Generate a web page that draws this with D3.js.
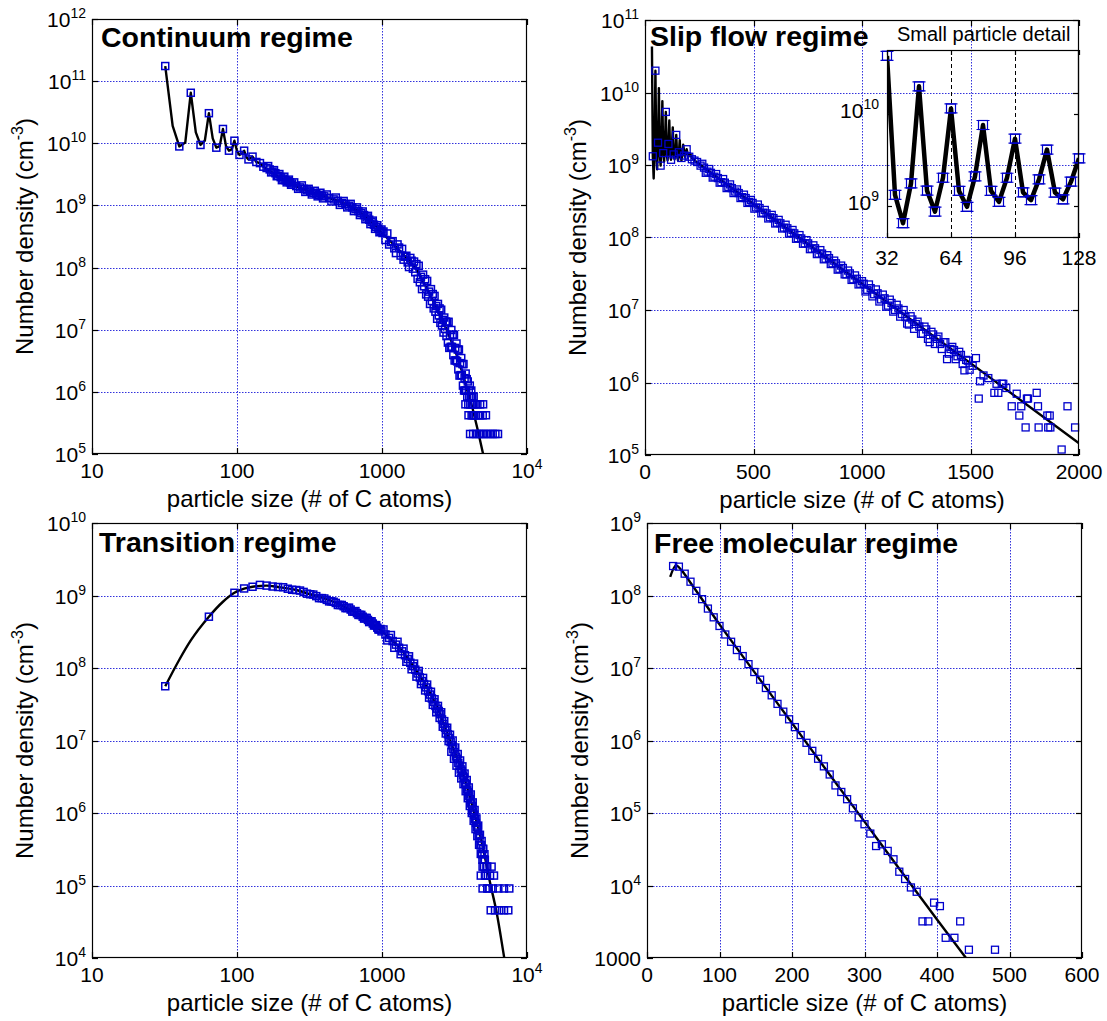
<!DOCTYPE html>
<html>
<head>
<meta charset="utf-8">
<script src="https://cdn.jsdelivr.net/npm/d3@7"></script>
<style>
  html, body { margin: 0; padding: 0; background: #fff; }
  svg { display: block; font-family: "Liberation Sans", Arial, Helvetica, sans-serif; }
</style>
</head>
<body>
<svg id="fig" width="1107" height="1021"></svg>
<script>
// ---------------- data: [particle size (# C atoms), number density (cm^-3)] ----------------

// Continuum regime: simulated size distribution, small sizes
const continuumSimSmall = [
  [32,1.75e11],[40,8.9e9],[48,6.5e10],[56,9.4e9],[64,3.05e10],[72,8.5e9],[80,1.7e10],[88,7.6e9],
  [96,1.1e10],[104,6.5e9],[112,7.6e9],[120,5.5e9],[128,6.1e9],[136,5.0e9],[144,4.8e9],[152,4.2e9],
  [160,4.0e9],[164,4.3e9],[168,3.8e9],[172,3.4e9],[176,3.5e9],[180,3.7e9],[184,3.3e9],[188,2.95e9],
  [192,3.0e9],[196,3.2e9],[200,2.85e9],[204,2.55e9],[208,2.7e9],[212,2.9e9],[216,2.55e9],[220,2.35e9],
  [224,2.45e9],[228,2.6e9],[232,2.35e9],[236,2.15e9],[240,2.25e9],[248,2.35e9],[256,2.05e9],[264,1.85e9],
  [272,1.95e9],[280,2.1e9],[288,1.85e9],[296,1.65e9],[304,1.75e9],[312,1.85e9],[320,1.68e9],[328,1.5e9],
  [336,1.6e9],[344,1.72e9],[352,1.55e9],[360,1.4e9],[368,1.48e9],[376,1.6e9],[384,1.43e9],[392,1.3e9],
  [400,1.4e9],[416,1.5e9],[432,1.32e9],[448,1.16e9],[464,1.25e9],[480,1.34e9],[496,1.18e9],[512,1.02e9],
  [528,1.1e9],[544,1.18e9],[560,1.05e9],[576,9.3e8],[592,9.9e8],[608,1.06e9],[624,9.3e8],[640,8.1e8],
  [656,8.7e8],[672,9.3e8],[688,8.1e8],[704,7.0e8],[720,7.5e8],[736,8.0e8],[752,7.0e8],[768,6.0e8],
  [784,6.4e8],[800,6.8e8],[816,5.9e8],[832,5.0e8],[848,5.4e8],[864,5.7e8],[880,4.9e8],[896,4.2e8],
  [912,4.5e8],[928,4.8e8],[944,4.2e8],[960,3.7e8],[976,3.9e8],[992,4.1e8],[1008,3.6e8]
];
// Continuum regime: simulated size distribution, large sizes
const continuumSimLarge = [
  [1024,3.8e8],[1056,2.78e8],[1088,3.54e8],[1120,2.35e8],[1152,2.58e8],[1184,2.66e8],[1216,2.04e8],[1248,1.71e8],
  [1280,2.36e8],[1312,2.1e8],[1344,1.56e8],[1376,2.0e8],[1408,1.34e8],[1440,1.49e8],[1472,1.55e8],[1504,1.21e8],
  [1536,1.02e8],[1568,1.43e8],[1600,1.29e8],[1632,9.6e7],[1664,1.25e8],[1696,8.4e7],[1728,1.14e8],[1760,6.6e7],
  [1792,1.07e8],[1824,5.8e7],[1856,7.1e7],[1888,4.5e7],[1920,7.7e7],[1952,5.0e7],[1984,6.5e7],[2016,3.7e7],
  [2048,6.1e7],[2080,3.4e7],[2112,4.1e7],[2144,2.6e7],[2176,4.5e7],[2208,2.9e7],[2240,3.75e7],[2272,2.2e7],
  [2304,3.5e7],[2336,1.95e7],[2368,2.4e7],[2400,1.5e7],[2432,2.6e7],[2464,1.7e7],[2496,2.2e7],[2528,1.29e7],
  [2560,2.1e7],[2592,1.17e7],[2624,1.44e7],[2656,9.0e6],[2688,1.57e7],[2720,1.03e7],[2752,1.35e7],[2784,7.9e6],
  [2816,1.33e7],[2848,6.2e6],[2880,1.34e7],[2912,5.1e6],[2944,8.1e6],[2976,5.3e6],[3008,9.9e6],[3040,5.3e6],
  [3072,8.3e6],[3104,3.9e6],[3136,8.3e6],[3168,3.2e6],[3200,5.1e6],[3232,3.2e6],[3264,6.0e6],[3296,3.1e6],
  [3328,4.8e6],[3360,2.3e6],[3392,4.8e6],[3424,1.83e6],[3456,2.9e6],[3488,1.86e6],[3520,3.5e6],[3552,1.85e6],
  [3584,2.8e6],[3616,1.26e6],[3648,2.8e6],[3680,1.05e6],[3712,1.66e6],[3744,1.05e6],[3776,1.97e6],[3808,1.05e6],
  [3840,1.6e6],[3872,8.4e5],[3904,1.47e6],[3936,6.3e5],[3968,1.05e6],[4000,8.4e5],[4032,1.26e6],[4064,6.3e5],
  [4096,8.4e5],[4128,1.05e6],[4160,6.3e5],[4192,8.4e5],[4224,4.2e5],[4256,6.3e5],[4288,8.4e5],[4320,4.2e5]
];
// Continuum regime: single-digit particle counts in the tail
const continuumSimTail = [
  [3760,6.3e5],[4350,6.3e5],[4550,6.3e5],[4750,6.3e5],[4980,6.3e5],
  [3950,4.2e5],[4150,4.2e5],[4450,4.2e5],[4600,4.2e5],[4750,4.2e5],[4950,4.2e5],[5210,4.2e5],
  [4050,2.1e5],[4250,2.1e5],[4450,2.1e5],[4650,2.1e5],[4850,2.1e5],[5050,2.1e5],[5300,2.1e5],
  [5550,2.1e5],[5800,2.1e5],[6050,2.1e5],[6310,2.1e5]
];
// Continuum regime: model curve
const continuumFit = [
  [32,1.75e11],[36,1.9e10],[40,8.9e9],[44,1.03e10],[48,6.5e10],[52,1.5e10],[56,9.4e9],[60,1.1e10],
  [64,3.05e10],[68,1.2e10],[72,8.5e9],[76,9.0e9],[80,1.7e10],[84,9.0e9],[88,7.6e9],[92,8.0e9],
  [96,1.1e10],[100,7.5e9],[104,6.5e9],[108,6.8e9],[112,7.6e9],[116,6.0e9],[120,5.5e9],[124,5.8e9],
  [128,6.1e9],[136,5.0e9],[144,4.8e9],[152,4.2e9],[175,3.4e9],[200,2.75e9],[230,2.3e9],[260,2.0e9],
  [300,1.76e9],[340,1.58e9],[390,1.43e9],[440,1.3e9],[510,1.16e9],[587,1.0e9],[660,8.6e8],[750,7.0e8],
  [870,5.2e8],[1000,3.6e8],[1120,2.8e8],[1260,2.1e8],[1450,1.5e8],[1690,1.0e8],[1850,7.2e7],[2000,5.0e7],
  [2240,3.0e7],[2500,1.8e7],[2790,1.0e7],[3160,5.0e6],[3550,2.2e6],[3900,1.0e6],[4200,5.6e5],[4600,2.3e5],
  [4980,1.0e5],[5100,8.0e4]
];

// Slip flow regime: small-particle detail (32–128 atoms)
const slipDetail = [
  [32,4.3e10],[36,1.32e9],[40,6.5e8],[44,1.76e9],[48,2.0e10],[52,1.47e9],[56,8.7e8],[60,2.03e9],
  [64,1.15e10],[68,1.46e9],[72,9.8e8],[76,2.1e9],[80,7.6e9],[84,1.46e9],[88,1.11e9],[92,2.03e9],
  [96,5.4e9],[100,1.41e9],[104,1.16e9],[108,1.95e9],[112,4.1e9],[116,1.4e9],[120,1.18e9],[124,1.84e9],
  [128,3.3e9]
];
// Slip flow regime: model curve beyond the detail range
const slipFitTail = [
  [132,1.4e9],[136,1.2e9],[140,1.5e9],[144,2.6e9],[148,1.35e9],[152,1.15e9],[156,1.45e9],[160,2.2e9],
  [164,1.3e9],[168,1.15e9],[172,1.4e9],[176,1.9e9],[184,1.3e9],[192,1.65e9],[200,1.3e9],[208,1.45e9],
  [216,1.25e9],[224,1.2e9],[240,1.08e9],[500,2.9e8],[1000,2.3e7],[1500,1.85e6],[2000,1.45e5]
];
// Slip flow regime: simulated size distribution, on a 16-atom grid
const slipSimA = [
  [36,1.32e9],[48,2.0e10],[60,2.03e9],[72,9.8e8],[84,1.46e9],[96,5.4e9],[108,1.95e9],[120,1.18e9],
  [132,1.4e9],[144,2.6e9],[156,1.5e9],[168,1.25e9],[180,1.35e9],[192,1.65e9],[204,1.3e9],[216,1.2e9],
  [228,1.15e9],[240,1.1e9],
  [256,9.8e8],[272,9.2e8],[288,8.1e8],[304,7.8e8],[320,6.9e8],[336,6.6e8],[352,5.8e8],[368,5.7e8],
  [384,5.0e8],[400,4.8e8],[416,4.3e8],[432,4.1e8],[448,3.6e8],[464,3.5e8],[480,3.1e8],[496,3.0e8],
  [512,2.6e8],[528,2.55e8],[544,2.2e8],[560,2.15e8],[576,1.9e8],[592,1.85e8],[608,1.6e8],[624,1.57e8],
  [640,1.37e8],[656,1.34e8],[672,1.16e8],[688,1.14e8],[704,9.8e7],[720,9.7e7],[736,8.3e7],[752,8.3e7],
  [768,7.0e7],[784,7.1e7],[800,6.0e7],[816,6.0e7],[832,5.1e7],[848,5.2e7],[864,4.4e7],[880,4.4e7],
  [896,3.7e7],[912,3.8e7],[928,3.1e7],[944,3.2e7],[960,2.65e7],[976,2.7e7],[992,2.3e7],[1008,2.3e7],
  [1024,1.9e7],[1040,2.0e7],[1056,1.65e7],[1072,1.7e7],[1088,1.4e7],[1104,1.45e7],[1120,1.15e7],[1136,1.25e7],
  [1152,1.0e7],[1168,1.05e7],[1184,8.8e6],[1200,8.0e6],[1216,6.3e6],[1232,7.4e6],[1248,6.4e6],[1264,5.9e6],
  [1280,4.7e6],[1296,5.4e6],[1312,3.6e6],[1328,4.6e6],[1344,4.0e6],[1360,3.4e6],[1376,3.6e6],[1392,2.1e6],
  [1408,2.9e6],[1424,2.8e6],[1440,2.3e6],[1456,2.4e6],[1472,1.47e6],[1488,2.0e6]
];
// Slip flow regime: simulated size distribution, in-between sizes
const slipSimB = [
  [264,1.04e9],[280,7.8e8],[296,8.8e8],[312,6.7e8],[328,7.5e8],[344,5.7e8],[360,6.4e8],[376,4.8e8],
  [392,5.4e8],[408,4.1e8],[424,4.6e8],[440,3.5e8],[456,3.9e8],[472,3.0e8],[488,3.3e8],[504,2.5e8],
  [520,2.85e8],[536,2.15e8],[552,2.4e8],[568,1.83e8],[584,2.05e8],[600,1.56e8],[616,1.75e8],[632,1.33e8],
  [648,1.5e8],[664,1.13e8],[680,1.27e8],[696,9.6e7],[712,1.08e8],[728,8.2e7],[744,9.2e7],[760,6.9e7],
  [776,7.8e7],[792,5.9e7],[808,6.7e7],[824,5.0e7],[840,5.7e7],[856,4.3e7],[872,4.8e7],[888,3.6e7],
  [904,4.1e7],[920,3.1e7],[936,3.5e7],[952,2.6e7],[968,3.0e7],[984,2.25e7],[1000,2.5e7],[1016,1.8e7],
  [1032,2.25e7],[1048,1.54e7],[1064,1.92e7],[1080,1.31e7],[1096,1.63e7],[1112,1.11e7],[1128,1.39e7],[1144,9.5e6],
  [1160,1.18e7],[1176,8.1e6],[1192,1.0e7],[1208,6.5e6],[1224,8.2e6],[1240,5.5e6],[1256,6.9e6],[1272,4.7e6],
  [1288,5.9e6],[1304,4.0e6],[1320,5.0e6],[1336,3.4e6],[1352,4.3e6],[1368,2.9e6],[1384,3.6e6],[1400,2.5e6],
  [1416,3.1e6],[1432,2.1e6],[1448,2.65e6],[1464,1.8e6],[1480,2.05e6],[1496,1.5e6]
];
// Slip flow regime: sparse large particles
const slipSimTail = [
  [1510,1.7e6],[1525,2.17e6],[1538,6.0e5],[1544,1.04e6],[1560,1.25e6],[1582,1.15e6],[1610,7.2e5],[1628,7.2e5],
  [1620,9.6e5],[1644,9.6e5],[1651,9.6e5],[1665,8.4e5],[1690,4.7e5],[1713,7.0e5],[1725,3.5e5],[1734,4.7e5],
  [1754,2.4e5],[1760,6.0e5],[1765,6.0e5],[1805,7.2e5],[1811,4.7e5],[1814,2.4e5],[1854,3.5e5],[1858,2.4e5],
  [1865,3.5e5],[1868,2.4e5],[1920,1.19e5],[1947,4.7e5],[1982,2.4e5]
];

// Transition regime: simulated size distribution
const transitionSimA = [
  [32,5.6e7],[64,5.1e8],[96,1.09e9],[128,1.32e9],[160,1.37e9],[192,1.31e9],[224,1.24e9],[256,1.19e9],
  [288,1.12e9],[320,1.04e9],[352,9.8e8],[384,9.2e8],[416,8.7e8],[448,8.3e8],[480,7.9e8],[512,7.4e8],
  [544,7.1e8],[576,6.7e8],[608,6.4e8],[640,6.0e8],[672,5.7e8],[704,5.4e8],[736,5.1e8],[768,4.9e8],
  [800,4.6e8],[832,4.4e8],[864,4.1e8],[896,3.9e8],[928,3.6e8],[960,3.4e8],[992,3.2e8],
  [1056,2.9e8],[1120,2.6e8],[1184,2.35e8],[1248,2.1e8],[1312,1.9e8],[1376,1.7e8],[1440,1.5e8],[1504,1.33e8],
  [1568,1.18e8],[1632,1.06e8],[1696,9.5e7],[1760,8.4e7],[1824,7.4e7],[1888,6.6e7],[1952,6.0e7],[2016,5.4e7],
  [2080,4.8e7],[2144,4.3e7],[2208,3.8e7],[2272,3.4e7],[2336,3.0e7],[2400,2.75e7],[2464,2.55e7],[2528,2.3e7],
  [2592,1.95e7],[2656,1.7e7],[2720,1.5e7],[2784,1.4e7],[2848,1.22e7],[2912,1.08e7],[2976,9.5e6],
  [3040,8.6e6],[3104,7.6e6],[3168,6.9e6],[3232,6.0e6],[3296,5.6e6],[3360,4.9e6],[3424,4.5e6],[3488,4.0e6],
  [3552,3.8e6],[3616,3.3e6],[3680,3.1e6],[3744,2.6e6],[3808,2.5e6],[3872,2.1e6],[3936,1.95e6],[4000,1.7e6],
  [4064,1.55e6],[4128,1.35e6],[4192,1.25e6],[4256,1.05e6],[4320,9.5e5],[4384,8.2e5],[4448,7.3e5],[4512,6.4e5],
  [4576,5.9e5],[4640,5.0e5],[4704,4.5e5],[4768,3.6e5],[4832,3.6e5],[4896,2.7e5],[4960,3.2e5],[5024,2.3e5],
  [5088,2.7e5]
];
const transitionSimB = [
  [112,1.25e9],[144,1.4e9],[176,1.33e9],[208,1.3e9],[240,1.2e9],[272,1.17e9],[304,1.06e9],[336,1.03e9],
  [368,9.2e8],[400,9.1e8],[432,8.3e8],[464,8.2e8],[496,7.4e8],[528,7.4e8],[560,6.7e8],[592,6.8e8],
  [624,6.0e8],[656,6.1e8],[688,5.4e8],[720,5.4e8],[752,4.8e8],[784,4.9e8],[816,4.3e8],[848,4.4e8],
  [880,3.85e8],[912,3.9e8],[944,3.4e8],[976,3.45e8],
  [1024,3.4e8],[1088,2.4e8],[1152,2.85e8],[1216,1.9e8],[1280,2.3e8],[1344,1.55e8],[1408,1.85e8],[1472,1.22e8],
  [1536,1.45e8],[1600,9.6e7],[1664,1.15e8],[1728,7.6e7],[1792,9.1e7],[1856,6.0e7],[1920,7.3e7],[1984,4.9e7],
  [2048,5.9e7],[2112,3.9e7],[2176,4.7e7],[2240,3.1e7],[2304,3.7e7],[2368,2.45e7],[2432,3.0e7],[2496,2.05e7],
  [2560,2.45e7],[2624,1.55e7],[2688,1.85e7],[2752,1.25e7],[2816,1.5e7],[2880,9.8e6],[2944,1.2e7],
  [3008,7.0e6],[3072,1.0e7],[3136,5.6e6],[3200,8.0e6],[3264,4.5e6],[3328,6.5e6],[3392,3.6e6],[3456,5.3e6],
  [3520,3.0e6],[3584,4.4e6],[3648,2.5e6],[3712,3.5e6],[3776,2.0e6],[3840,2.85e6],[3904,1.6e6],[3968,2.25e6],
  [4032,1.25e6],[4096,1.8e6],[4160,1.0e6],[4224,1.4e6],[4288,7.8e5],[4352,1.1e6],[4416,6.0e5],[4480,8.4e5],
  [4544,4.8e5],[4608,6.7e5],[4672,3.64e5],[4736,5.0e5],[4800,2.73e5],[4864,4.1e5],[4928,2.27e5],[4992,3.2e5],
  [5056,1.82e5],[5120,2.27e5],[5184,1.37e5],[5248,1.82e5]
];
// Transition regime: single-digit particle counts in the tail
const transitionSimTail = [
  [4940,1.82e5],[5320,1.82e5],[5700,1.82e5],
  [4800,1.37e5],[5130,1.37e5],[5560,1.37e5],[5920,1.37e5],
  [4940,9.1e4],[5320,9.1e4],[5440,9.1e4],[5800,9.1e4],[6340,9.1e4],[6940,9.1e4],[7550,9.1e4],
  [5620,4.55e4],[6020,4.55e4],[6440,4.55e4],[6940,4.55e4],[7430,4.55e4]
];
const transitionFit = [
  [32,5.6e7],[40,1.3e8],[48,2.4e8],[64,5.1e8],[80,8.2e8],[96,1.09e9],[112,1.24e9],[128,1.32e9],
  [160,1.37e9],[192,1.31e9],[256,1.19e9],[320,1.04e9],[400,9.1e8],[500,7.7e8],[600,6.4e8],[700,5.4e8],
  [1000,3.2e8],[1330,1.87e8],[1650,1.05e8],[2030,5.5e7],[2500,2.4e7],[2940,1.0e7],[3640,3.4e6],[4270,1.1e6],
  [4870,4.0e5],[5560,1.1e5],[6180,4.2e4],[6970,1.0e4],[7100,8.0e3]
];

// Free molecular regime
const freeSim = [
  [36,2.55e8],[44,2.5e8],[52,2.0e8],[60,1.55e8],[68,1.16e8],[76,8.9e7],[84,6.6e7],[92,5.0e7],
  [100,3.8e7],[108,2.9e7],[116,2.3e7],[124,1.77e7],[132,1.46e7],[140,1.13e7],[148,8.8e6],[156,6.9e6],
  [164,5.3e6],[172,4.2e6],[180,3.2e6],[188,2.5e6],[196,1.96e6],[204,1.53e6],[212,1.19e6],[220,9.3e5],
  [228,7.2e5],[236,5.6e5],[244,4.4e5],[252,3.4e5],[260,2.4e5],[268,1.95e5],[276,1.55e5],[284,1.16e5],
  [292,8.7e4],[300,7.0e4],[308,5.2e4],[316,3.5e4],[324,3.7e4],[332,3.0e4],[340,2.3e4],[348,1.55e4],
  [356,1.23e4],[364,9.4e3],[372,8.2e3],[380,3.2e3],[388,3.2e3],[396,5.8e3],[404,5.2e3],[412,1.9e3],
  [424,1.9e3],[432,3.2e3],[444,1.3e3],[480,1.3e3]
];
const freeFit = [
  [32,1.8e8],[40,2.6e8],[48,2.2e8],[60,1.5e8],[100,4.0e7],[150,8.3e6],[200,1.74e6],[250,3.6e5],
  [300,7.6e4],[350,1.6e4],[400,3.4e3],[440,1.0e3]
];

// Axis ticks and tick labels
const logSizeTicks = [10, 100, 1000, 10000];
const logSizeLabels = ["10", "100", "1000", "10^4"];
const slipSizeTicks = [0, 500, 1000, 1500, 2000];
const freeSizeTicks = [0, 100, 200, 300, 400, 500, 600];
const continuumYTicks = [1e5, 1e6, 1e7, 1e8, 1e9, 1e10, 1e11, 1e12];
const continuumYLabels = ["10^5", "10^6", "10^7", "10^8", "10^9", "10^10", "10^11", "10^12"];
const slipYTicks = [1e5, 1e6, 1e7, 1e8, 1e9, 1e10, 1e11];
const slipYLabels = ["10^5", "10^6", "10^7", "10^8", "10^9", "10^10", "10^11"];
const transitionYTicks = [1e4, 1e5, 1e6, 1e7, 1e8, 1e9, 1e10];
const transitionYLabels = ["10^4", "10^5", "10^6", "10^7", "10^8", "10^9", "10^10"];
const freeYTicks = [1e3, 1e4, 1e5, 1e6, 1e7, 1e8, 1e9];
const freeYLabels = ["1000", "10^4", "10^5", "10^6", "10^7", "10^8", "10^9"];
const detailXTicks = [32, 64, 96, 128];
const detailYTicks = [1e9, 1e10];
const detailYLabels = ["10^9", "10^10"];

const panelTitles = ["Continuum regime", "Slip flow regime", "Transition regime", "Free molecular regime"];
const xAxisTitle = "particle size (# of C atoms)";
const detailTitle = "Small particle detail";

// ---------------- drawing ----------------
const svg = d3.select("#fig");
const MARK = "#0000cc";
const GRID = "#3232dc";

function supText(sel, x, y, str, anchor, size, supSize, supDy) {
  const t = sel.append("text")
    .attr("x", x).attr("y", y)
    .attr("text-anchor", anchor)
    .attr("font-size", size)
    .attr("fill", "#000");
  const parts = str.split("^");
  t.append("tspan").text(parts[0]);
  if (parts.length > 1) {
    t.append("tspan").attr("font-size", supSize).attr("dy", supDy).text(parts[1]);
  }
  return t;
}

const snap = v => Math.round(v) + 0.5;

function drawAxes(cfg) {
  const g = svg.append("g");
  const x = (cfg.xLog ? d3.scaleLog() : d3.scaleLinear())
    .domain(cfg.xDomain).range([cfg.left, cfg.right]);
  const y = d3.scaleLog().domain(cfg.yDomain).range([cfg.bottom, cfg.top]);

  const clipId = "clip-" + cfg.id;
  g.append("clipPath").attr("id", clipId)
    .append("rect")
    .attr("x", cfg.left).attr("y", cfg.top)
    .attr("width", cfg.right - cfg.left).attr("height", cfg.bottom - cfg.top);

  // grid lines at interior ticks
  const grid = g.append("g").attr("fill", "none").attr("stroke-width", 1);
  cfg.xTicks.slice(1, -1).forEach(t => {
    grid.append("line")
      .attr("x1", snap(x(t))).attr("x2", snap(x(t)))
      .attr("y1", cfg.top).attr("y2", cfg.bottom)
      .attr("stroke", cfg.vGridColor || GRID)
      .attr("stroke-dasharray", cfg.gridDash || "1.5,1.5");
  });
  cfg.yTicks.slice(1, -1).forEach(t => {
    grid.append("line")
      .attr("x1", cfg.left).attr("x2", cfg.right)
      .attr("y1", snap(y(t))).attr("y2", snap(y(t)))
      .attr("stroke", cfg.hGridColor || GRID)
      .attr("stroke-dasharray", cfg.gridDash || "1.5,1.5");
  });

  // model curve
  const line = d3.line()
    .x(d => x(d[0])).y(d => y(d[1]))
    .curve(cfg.curve || d3.curveMonotoneX);
  g.append("path")
    .datum(cfg.fit)
    .attr("clip-path", `url(#${clipId})`)
    .attr("fill", "none")
    .attr("stroke", "#000")
    .attr("stroke-width", cfg.lineWidth || 2.4)
    .attr("stroke-linejoin", "round")
    .attr("d", line);

  // simulated data markers (open squares)
  const s = cfg.markSize || 7;
  const marks = g.append("g")
    .attr("fill", "none").attr("stroke", MARK).attr("stroke-width", cfg.markStroke || 1.3);
  marks.selectAll("rect").data(cfg.sim).join("rect")
    .attr("x", d => x(d[0]) - s / 2).attr("y", d => y(d[1]) - s / 2)
    .attr("width", s).attr("height", s);
  if (cfg.caps) {
    const c = cfg.caps;
    marks.selectAll("path.cap").data(cfg.sim).join("path")
      .attr("class", "cap")
      .attr("d", d => {
        const cx = x(d[0]), cy = y(d[1]);
        return `M${cx - c / 2},${cy - s / 2}H${cx + c / 2}M${cx - c / 2},${cy + s / 2}H${cx + c / 2}`;
      });
  }

  // frame and inward ticks
  g.append("rect")
    .attr("x", cfg.left + 0.5).attr("y", cfg.top + 0.5)
    .attr("width", cfg.right - cfg.left - 1).attr("height", cfg.bottom - cfg.top - 1)
    .attr("fill", "none").attr("stroke", "#000").attr("stroke-width", 1.2);
  const tl = cfg.tickLen || 6;
  const ticks = g.append("g").attr("stroke", "#000").attr("stroke-width", 1.2);
  cfg.xTicks.forEach(t => {
    const px = snap(x(t));
    ticks.append("line").attr("x1", px).attr("x2", px).attr("y1", cfg.bottom).attr("y2", cfg.bottom - tl);
    ticks.append("line").attr("x1", px).attr("x2", px).attr("y1", cfg.top).attr("y2", cfg.top + tl);
  });
  cfg.yTicks.forEach(t => {
    const py = snap(y(t));
    ticks.append("line").attr("x1", cfg.left).attr("x2", cfg.left + tl).attr("y1", py).attr("y2", py);
    ticks.append("line").attr("x1", cfg.right).attr("x2", cfg.right - tl).attr("y1", py).attr("y2", py);
  });

  // tick labels
  const fs = cfg.tickFont || 21;
  const labels = g.append("g");
  cfg.xTicks.forEach((t, i) => {
    supText(labels, x(t), cfg.bottom + (cfg.xLabelOffset || 24), cfg.xLabels[i], "middle", fs, 14, -9);
  });
  cfg.yTicks.forEach((t, i) => {
    supText(labels, cfg.left - (cfg.yLabelGap || 6), y(t) + (cfg.yLabelDrop || 8), cfg.yLabels[i], "end", fs, 14, -9);
  });

  // axis titles
  if (cfg.xTitle) {
    g.append("text")
      .attr("x", (cfg.left + cfg.right) / 2).attr("y", cfg.bottom + 53)
      .attr("text-anchor", "middle").attr("font-size", 24)
      .text(cfg.xTitle);
  }
  if (cfg.yTitle) {
    const t = g.append("text")
      .attr("transform", `translate(${cfg.left - 59},${(cfg.top + cfg.bottom) / 2}) rotate(-90)`)
      .attr("text-anchor", "middle").attr("font-size", 24);
    t.append("tspan").text("Number density (cm");
    t.append("tspan").attr("font-size", 16).attr("dy", -10).text("-3");
    t.append("tspan").attr("dy", 10).text(")");
  }
  if (cfg.title) {
    g.append("text")
      .attr("x", cfg.titleX).attr("y", cfg.titleY)
      .attr("font-size", 28.5).attr("font-weight", "bold")
      .text(cfg.title);
  }
  return { x, y, g };
}

// Continuum regime
drawAxes({
  id: "continuum", left: 92, right: 527, top: 19, bottom: 454,
  xLog: true, xDomain: [10, 1e4], yDomain: [1e5, 1e12],
  xTicks: logSizeTicks, xLabels: logSizeLabels,
  yTicks: continuumYTicks, yLabels: continuumYLabels,
  sim: continuumSimSmall.concat(continuumSimLarge, continuumSimTail), fit: continuumFit,
  curve: d3.curveLinear, markStroke: 1.5,
  xTitle: xAxisTitle, yTitle: true,
  title: panelTitles[0], titleX: 101, titleY: 47
});

// Slip flow regime
drawAxes({
  id: "slip", left: 645, right: 1079, top: 20, bottom: 455,
  xLog: false, xDomain: [0, 2000], yDomain: [1e5, 1e11],
  xTicks: slipSizeTicks, xLabels: slipSizeTicks.map(String),
  yTicks: slipYTicks, yLabels: slipYLabels,
  sim: slipSimA.concat(slipSimB, slipSimTail), fit: slipDetail.concat(slipFitTail),
  curve: d3.curveLinear,
  xTitle: xAxisTitle, yTitle: true,
  title: panelTitles[1], titleX: 650, titleY: 46
});

// Small particle detail inset, drawn over the slip flow panel
drawAxes({
  id: "detail", left: 887, right: 1079, top: 50, bottom: 238,
  xLog: false, xDomain: [32, 128], yDomain: [4.49e8, 4.97e10],
  xTicks: detailXTicks, xLabels: detailXTicks.map(String),
  yTicks: detailYTicks, yLabels: detailYLabels,
  sim: slipDetail, fit: slipDetail,
  curve: d3.curveLinear, lineWidth: 4.5,
  markSize: 9, markStroke: 1.2, caps: 13,
  tickLen: 5, gridDash: "4,3", vGridColor: "#000", hGridColor: "#1f1fd6",
  xLabelOffset: 27, yLabelGap: 8, yLabelDrop: 4
});
svg.append("text")
  .attr("x", 897).attr("y", 41)
  .attr("font-size", 20)
  .text(detailTitle);

// Transition regime
drawAxes({
  id: "transition", left: 92, right: 527, top: 523, bottom: 958,
  xLog: true, xDomain: [10, 1e4], yDomain: [1e4, 1e10],
  xTicks: logSizeTicks, xLabels: logSizeLabels,
  yTicks: transitionYTicks, yLabels: transitionYLabels,
  sim: transitionSimA.concat(transitionSimB, transitionSimTail), fit: transitionFit,
  markStroke: 1.5,
  xTitle: xAxisTitle, yTitle: true,
  title: panelTitles[2], titleX: 99, titleY: 552
});

// Free molecular regime
drawAxes({
  id: "free", left: 647, right: 1082, top: 523, bottom: 958,
  xLog: false, xDomain: [0, 600], yDomain: [1e3, 1e9],
  xTicks: freeSizeTicks, xLabels: freeSizeTicks.map(String),
  yTicks: freeYTicks, yLabels: freeYLabels,
  sim: freeSim, fit: freeFit,
  xTitle: xAxisTitle, yTitle: true,
  title: panelTitles[3], titleX: 654, titleY: 553
});
</script>
</body>
</html>
